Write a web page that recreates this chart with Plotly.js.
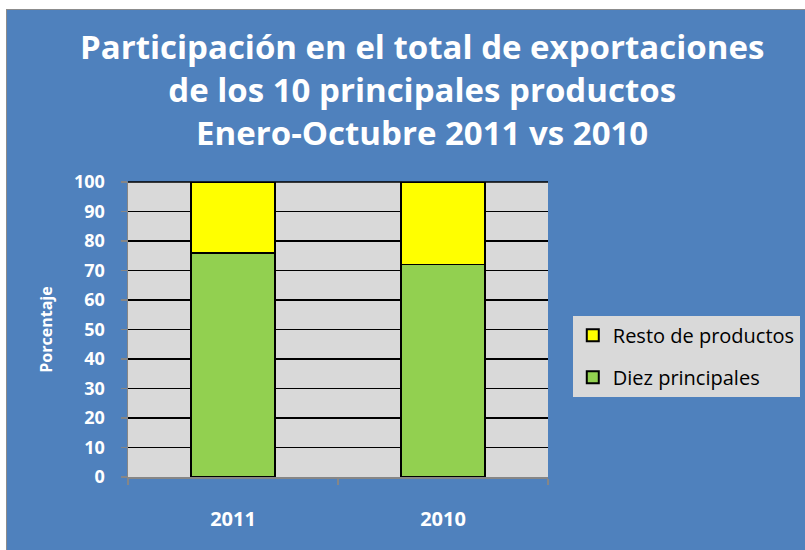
<!DOCTYPE html>
<html>
<head>
<meta charset="utf-8">
<script src="https://cdn.plot.ly/plotly-3.0.1.min.js"></script>
<style>
  html, body { margin: 0; padding: 0; background: #ffffff; }
  #chart {
    position: absolute; left: 6px; top: 9px;
    width: 799px; height: 541px;
    border-top: 1px solid #8c8c8c; border-left: 1px solid #8c8c8c;
    box-sizing: border-box;
  }
</style>
</head>
<body>
<div id="chart"></div>
<script>
// años y porcentajes
var years = ['2011', '2010'];
var diezPrincipales = [76, 72];
var restoProductos = [24, 28];
var titulo = 'Participación en el total de exportaciones<br>de los 10 principales productos<br>Enero-Octubre 2011 vs 2010';

var fontName = '"Open Sans", Lato, sans-serif';
var blue = '#4f81bd';

var traceDiez = {
  x: years, y: diezPrincipales, type: 'bar', name: 'Diez principales',
  legendgroup: 'a', legendrank: 2,
  marker: { color: '#92d050', line: { color: '#000000', width: 1.5 } },
  hoverinfo: 'y'
};
var traceResto = {
  x: years, y: restoProductos, type: 'bar', name: 'Resto de productos',
  legendgroup: 'b', legendrank: 1,
  marker: { color: '#ffff00', line: { color: '#000000', width: 1.5 } },
  hoverinfo: 'y'
};

var layout = {
  width: 798, height: 540,
  paper_bgcolor: blue,
  plot_bgcolor: '#d9d9d9',
  barmode: 'stack',
  bargap: 0.6,
  margin: { l: 121, r: 257, t: 172, b: 73, autoexpand: false },
  xaxis: {
    type: 'category',
    showgrid: false,
    showline: true, linecolor: '#868686', linewidth: 1.5,
    ticks: 'outside', tickson: 'boundaries', ticklen: 6,
    tickcolor: '#868686', tickwidth: 1.5,
    ticklabelstandoff: 23,
    tickfont: { family: fontName, size: 20, color: '#ffffff', weight: 'bold' },
    fixedrange: true
  },
  yaxis: {
    range: [0, 100],
    dtick: 10,
    showgrid: true, gridcolor: '#000000', gridwidth: 1.3,
    zeroline: false,
    showline: true, linecolor: '#868686', linewidth: 1.5,
    ticks: 'outside', ticklen: 6, tickcolor: '#868686', tickwidth: 1.5,
    ticklabelstandoff: 12,
    tickfont: { family: fontName, size: 18, color: '#ffffff', weight: 'bold' },
    title: {
      text: 'Porcentaje', standoff: 17,
      font: { family: fontName, size: 16, color: '#ffffff', weight: 'bold' }
    },
    fixedrange: true
  },
  showlegend: true,
  legend: {
    xref: 'container', yref: 'container',
    x: 0.709, xanchor: 'left', y: 0.434, yanchor: 'top',
    bgcolor: '#d9d9d9',
    traceorder: 'grouped',
    tracegroupgap: 13,
    font: { family: fontName, size: 20, color: '#000000' },
    itemsizing: 'constant'
  },
  annotations: [
    {
      text: titulo, showarrow: false,
      xref: 'paper', yref: 'paper', x: 0.70, y: 1.312,
      xanchor: 'center', yanchor: 'middle', align: 'center',
      font: { family: fontName, size: 33, color: '#ffffff', weight: 'bold' }
    }
  ],
  shapes: [
    { type: 'line', xref: 'paper', yref: 'paper', x0: 0, x1: 1, y0: 1, y1: 1,
      line: { color: '#000000', width: 1.5 } }
  ]
};

Plotly.newPlot('chart', [traceDiez, traceResto], layout, { displayModeBar: false, staticPlot: true });
</script>
</body>
</html>
